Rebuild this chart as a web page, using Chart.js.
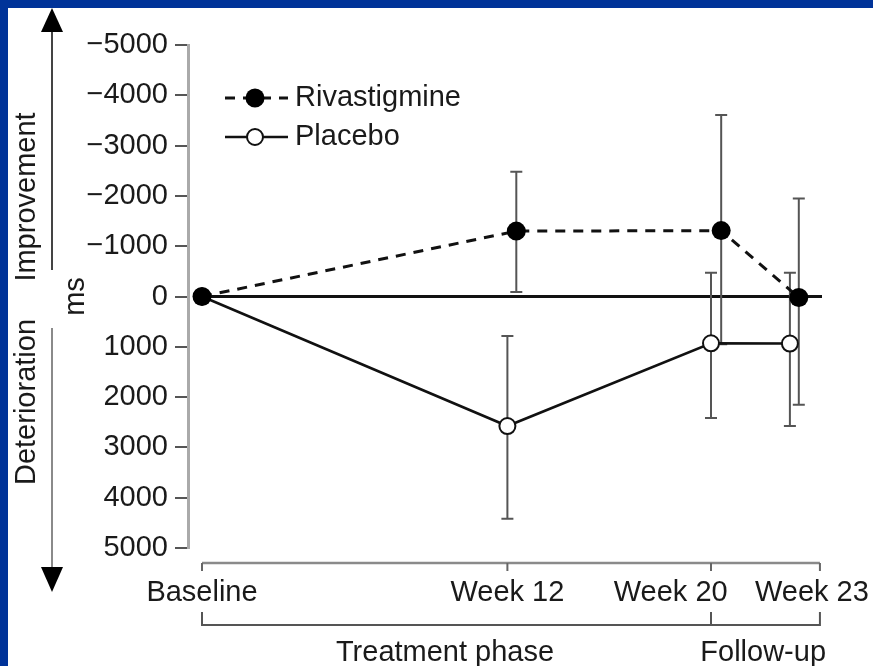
<!DOCTYPE html>
<html>
<head>
<meta charset="utf-8">
<script src="https://cdn.jsdelivr.net/npm/chart.js@4"></script>
<style>
  html, body { margin: 0; padding: 0; background: #003399; overflow: hidden; }
  #panel { position: absolute; left: 8px; top: 8px; width: 865px; height: 658px; background: #ffffff; }
  #box { position: absolute; left: 0; top: 0; width: 873px; height: 666px; }
</style>
</head>
<body>
<div id="panel"></div>
<div id="box"><canvas id="c"></canvas></div>
<script>
// ---------------- data ----------------
const xTickLabels = ['Baseline', 'Week 12', 'Week 20', 'Week 23'];
const xTickWeeks = [0, 12, 20, 24.28];
const yTickValues = [-5000, -4000, -3000, -2000, -1000, 0, 1000, 2000, 3000, 4000, 5000];

const seriesNames = ['Rivastigmine', 'Placebo'];

const rivastigmineWeeks = [0, 12.35, 20.4, 23.45];
const rivastigmine = [0, -1300, -1310, 20];
const rivastigmineErrTop = [null, -2480, -3610, -1950];
const rivastigmineErrBottom = [null, -90, 950, 2150];

const placeboWeeks = [0, 12, 20, 23.1];
const placebo = [0, 2575, 930, 935];
const placeboErrTop = [null, 785, -470, -470];
const placeboErrBottom = [null, 4420, 2415, 2575];

const phaseLabels = ['Treatment phase', 'Follow-up'];
const phaseBracketWeeks = [[0, 20], [20, 24.28]];

const sideLabels = ['Improvement', 'Deterioration'];
const yAxisTitle = 'ms';

// ---------------- style / layout ----------------
const FONT = "'Liberation Sans', Arial, Helvetica, sans-serif";
const FS = 29;
const TXT = '#1a1a1a';
const xLabelTrailingSpaces = [0, 0, 10, 2];
const phaseLabelCenters = [9.55, 22.05];
const PX_PER_WEEK = 25.45;
const X_MIN = -14 / PX_PER_WEEK;
const X_MAX = X_MIN + 634 / PX_PER_WEEK;

Chart.defaults.font.family = FONT;
Chart.defaults.font.size = FS;
Chart.defaults.color = TXT;

const errorSets = [
  { xs: rivastigmineWeeks, top: rivastigmineErrTop, bottom: rivastigmineErrBottom },
  { xs: placeboWeeks, top: placeboErrTop, bottom: placeboErrBottom }
];

const decor = {
  id: 'decor',
  beforeDatasetsDraw(chart) {
    const { ctx, chartArea: ca } = chart;
    const x = chart.scales.x, y = chart.scales.y;
    ctx.save();
    // zero reference line
    ctx.strokeStyle = '#111';
    ctx.lineWidth = 3;
    ctx.beginPath();
    ctx.moveTo(x.getPixelForValue(0), y.getPixelForValue(0));
    ctx.lineTo(ca.right, y.getPixelForValue(0));
    ctx.stroke();
    // error bars
    ctx.strokeStyle = '#555';
    ctx.lineWidth = 2;
    errorSets.forEach(s => {
      s.xs.forEach((w, i) => {
        if (s.top[i] === null) return;
        const px = x.getPixelForValue(w);
        const y1 = y.getPixelForValue(s.top[i]);
        const y2 = y.getPixelForValue(s.bottom[i]);
        ctx.beginPath();
        ctx.moveTo(px, y1); ctx.lineTo(px, y2);
        ctx.moveTo(px - 6, y1); ctx.lineTo(px + 6, y1);
        ctx.moveTo(px - 6, y2); ctx.lineTo(px + 6, y2);
        ctx.stroke();
      });
    });
    ctx.restore();
  },
  afterDraw(chart) {
    const { ctx, chartArea: ca } = chart;
    const x = chart.scales.x;
    ctx.save();
    // x axis bracket
    const axY = ca.bottom + 15;
    const xs = xTickWeeks.map(v => x.getPixelForValue(v));
    ctx.strokeStyle = '#8a8a8a';
    ctx.lineWidth = 2.5;
    ctx.beginPath();
    ctx.moveTo(xs[0], axY); ctx.lineTo(xs[xs.length - 1], axY);
    ctx.stroke();
    ctx.lineWidth = 2;
    ctx.strokeStyle = '#666';
    ctx.beginPath();
    xs.forEach(px => { ctx.moveTo(px, axY); ctx.lineTo(px, axY + 8); });
    ctx.stroke();
    // phase brackets
    const phY = ca.bottom + 77;
    ctx.strokeStyle = '#555';
    ctx.lineWidth = 2;
    phaseBracketWeeks.forEach(([a, b]) => {
      const pa = x.getPixelForValue(a), pb = x.getPixelForValue(b);
      ctx.beginPath();
      ctx.moveTo(pa, phY - 13); ctx.lineTo(pa, phY); ctx.lineTo(pb, phY); ctx.lineTo(pb, phY - 13);
      ctx.stroke();
    });
    ctx.fillStyle = TXT;
    ctx.font = FS + 'px ' + FONT;
    ctx.textAlign = 'center';
    ctx.textBaseline = 'middle';
    phaseLabels.forEach((t, i) => {
      ctx.fillText(t, x.getPixelForValue(phaseLabelCenters[i]), phY + 28);
    });
    // side labels
    const sideX = 27;
    [[sideLabels[0], 197], [sideLabels[1], 402]].forEach(([t, cy]) => {
      ctx.save();
      ctx.translate(sideX, cy);
      ctx.rotate(-Math.PI / 2);
      ctx.fillText(t, 0, 0);
      ctx.restore();
    });
    // arrows
    const ax = 52;
    ctx.lineWidth = 2;
    ctx.strokeStyle = '#444';
    ctx.beginPath(); ctx.moveTo(ax, 270); ctx.lineTo(ax, 30); ctx.stroke();
    ctx.strokeStyle = '#8a8a8a';
    ctx.beginPath(); ctx.moveTo(ax, 328); ctx.lineTo(ax, 570); ctx.stroke();
    ctx.fillStyle = '#000';
    ctx.beginPath(); ctx.moveTo(ax, 8); ctx.lineTo(ax - 11, 32); ctx.lineTo(ax + 11, 32); ctx.closePath(); ctx.fill();
    ctx.beginPath(); ctx.moveTo(ax, 592); ctx.lineTo(ax - 11, 567); ctx.lineTo(ax + 11, 567); ctx.closePath(); ctx.fill();
    // legend
    const lx0 = 225, lx1 = 288, lmx = 255, ltx = 295;
    const rows = [98, 137];
    chart.data.datasets.forEach((ds, i) => {
      const ly = rows[i];
      ctx.strokeStyle = ds.borderColor;
      ctx.lineWidth = ds.borderWidth;
      ctx.setLineDash(ds.borderDash || []);
      ctx.beginPath(); ctx.moveTo(lx0, ly); ctx.lineTo(lx1, ly); ctx.stroke();
      ctx.setLineDash([]);
      ctx.beginPath();
      ctx.arc(lmx, ly, ds.pointRadius, 0, Math.PI * 2);
      ctx.fillStyle = ds.pointBackgroundColor;
      ctx.fill();
      if (ds.pointBorderWidth) {
        ctx.lineWidth = ds.pointBorderWidth;
        ctx.strokeStyle = ds.pointBorderColor;
        ctx.stroke();
      }
      ctx.fillStyle = TXT;
      ctx.textAlign = 'left';
      ctx.textBaseline = 'middle';
      ctx.fillText(ds.label, ltx, ly);
    });
    ctx.restore();
  }
};

new Chart(document.getElementById('c'), {
  type: 'line',
  data: {
    datasets: [
      {
        label: seriesNames[0],
        data: rivastigmineWeeks.map((w, i) => ({ x: w, y: rivastigmine[i] })),
        borderColor: '#111',
        borderWidth: 3,
        borderDash: [10, 8],
        pointRadius: 9.5,
        pointBackgroundColor: '#000',
        pointBorderColor: '#000',
        pointBorderWidth: 0,
        fill: false,
        tension: 0,
        clip: false
      },
      {
        label: seriesNames[1],
        data: placeboWeeks.map((w, i) => ({ x: w, y: placebo[i] })),
        borderColor: '#111',
        borderWidth: 2.5,
        pointRadius: 8,
        pointBackgroundColor: '#ffffff',
        pointBorderColor: '#111',
        pointBorderWidth: 2,
        fill: false,
        tension: 0,
        clip: false
      }
    ]
  },
  options: {
    responsive: true,
    maintainAspectRatio: false,
    animation: false,
    devicePixelRatio: 1,
    layout: { autoPadding: false, padding: { left: 10, right: 51, top: 45, bottom: 0 } },
    plugins: { legend: { display: false }, tooltip: { enabled: false } },
    scales: {
      x: {
        type: 'linear',
        min: X_MIN,
        max: X_MAX,
        afterBuildTicks(s) { s.ticks = xTickWeeks.map(v => ({ value: v })); },
        afterFit(s) { s.height = 118; s.paddingLeft = 0; s.paddingRight = 0; },
        ticks: {
          autoSkip: false,
          maxRotation: 0,
          minRotation: 0,
          padding: 28,
          color: TXT,
          font: { size: FS, family: FONT },
          callback: (v, i) => xTickLabels[i] + ' '.repeat(xLabelTrailingSpaces[i])
        },
        grid: { display: false, drawTicks: false },
        border: { display: false }
      },
      y: {
        type: 'linear',
        reverse: true,
        min: -5000,
        max: 5000,
        afterBuildTicks(s) { s.ticks = yTickValues.map(v => ({ value: v })); },
        afterFit(s) { s.width = 178; s.paddingTop = 0; s.paddingBottom = 0; },
        ticks: {
          padding: 7,
          color: TXT,
          font: { size: FS, family: FONT },
          callback: v => (v < 0 ? '\u2212' + Math.abs(v) : String(v))
        },
        grid: { display: true, drawOnChartArea: false, drawTicks: true, tickLength: 13, color: '#555', lineWidth: 2 },
        border: { display: true, color: '#aaaaaa', width: 3 },
        title: { display: true, text: yAxisTitle, color: TXT, font: { size: FS, family: FONT }, padding: { top: 49, bottom: 0 } }
      }
    }
  },
  plugins: [decor]
});
</script>
</body>
</html>
